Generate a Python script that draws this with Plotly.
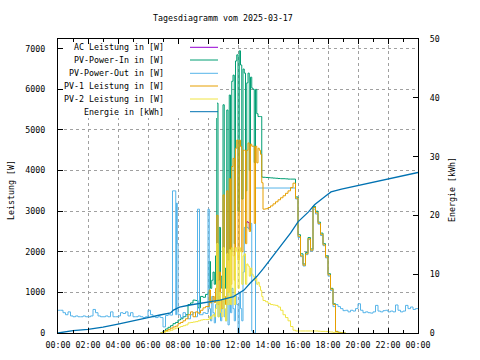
import plotly.graph_objects as go

DAY = "2025-03-17"

# ---------------- data ----------------
pv_times = [
    "06:50", "07:00", "07:10", "07:20", "07:30", "07:40", "07:50", "08:00", "08:10", "08:20",
    "08:30", "08:40", "08:50", "09:00", "09:10", "09:20", "09:30", "09:40", "09:50",
    "10:00", "10:05", "10:10", "10:15", "10:20", "10:25", "10:30", "10:35", "10:40", "10:45", "10:50", "10:55",
    "11:00", "11:05", "11:10", "11:15", "11:20", "11:25", "11:30", "11:35", "11:40", "11:45", "11:50", "11:55",
    "12:00", "12:05", "12:10", "12:15", "12:20", "12:25", "12:30", "12:35", "12:40", "12:45", "12:50", "12:55",
    "13:00", "13:05", "13:10", "13:15", "13:20", "13:25", "13:30", "13:35",
    "13:40", "13:50", "14:00", "14:10", "14:20", "14:30", "14:40", "14:50",
    "15:00", "15:10", "15:20", "15:30", "15:40", "15:50", "16:00", "16:10", "16:20", "16:30", "16:40", "16:50",
    "17:00", "17:10", "17:20", "17:30", "17:40", "17:50", "18:00", "18:10", "18:20", "18:30", "18:40", "18:50",
    "19:00", "19:10",
]

pv_in_w = [
    0, 50, 100, 140, 180, 230, 260, 320, 350, 400, 450, 700, 740, 810, 800, 620, 900, 880, 950,
    1000, 1760, 1100, 1300, 1500, 1200, 1900, 5660, 1300, 2600, 1400, 1100,
    5620, 1600, 1100, 5490, 1800, 5860, 2000, 6200, 6350, 2200, 6700, 6850,
    3000, 6950, 6600, 3300, 6500, 6400, 3500, 6160, 6400, 4000, 6300, 6030,
    6000, 4200, 6000, 5400, 5330, 5330, 5330, 3840,
    3835, 3830, 3825, 3820, 3815, 3810, 3805, 3800,
    3800, 3795, 3790, 3790, 3790, 3350, 2420, 1950, 1700, 1980, 2350, 2070,
    3120, 3000, 2730, 2460, 2200, 1900, 1460, 1100, 720, 40, 15, 5,
    0, 0,
]

pv1_w = [
    0, 30, 60, 90, 120, 150, 170, 230, 260, 300, 350, 450, 520, 400, 520, 490, 560, 620, 650,
    650, 1060, 740, 800, 900, 750, 1100, 2900, 700, 1500, 800, 600,
    3400, 900, 700, 3500, 1000, 3800, 1200, 4100, 4300, 1300, 4550, 4750,
    1800, 4750, 4590, 2000, 4500, 4500, 2200, 4500, 4680, 2500, 4650, 4600,
    4600, 2700, 4600, 4190, 4550, 4500, 4400, 3700,
    3050, 3060, 3090, 3130, 3180, 3230, 3280, 3330,
    3380, 3440, 3500, 3580, 3690, 3320, 2380, 1900, 1670, 1950, 2320, 2040,
    3090, 2960, 2700, 2430, 2170, 1870, 1430, 1080, 700, 35, 15, 5,
    0, 0,
]

pv2_w = [
    0, 20, 40, 50, 70, 100, 120, 140, 160, 180, 200, 250, 260, 270, 280, 300, 320, 330, 330,
    330, 400, 350, 420, 450, 400, 600, 2200, 400, 1000, 500, 400,
    2100, 600, 300, 1950, 700, 2050, 700, 2100, 1900, 700, 2100, 2000,
    1100, 2100, 2000, 1200, 1900, 1950, 1200, 1700, 1650, 1400, 1600, 1450,
    1400, 1300, 1350, 1200, 1250, 1150, 1050, 900,
    800, 770, 730, 700, 690, 680, 640, 560,
    450, 380, 300, 160, 70, 50, 50, 50, 50, 50, 50, 50,
    50, 50, 45, 40, 40, 35, 30, 25, 15, 5, 0, 0,
    0, 0,
]

out_times = [
    "00:00", "00:10", "00:20", "00:30", "00:40", "00:50", "01:00", "01:10", "01:20", "01:30", "01:40", "01:50",
    "02:00", "02:10", "02:20", "02:30", "02:40", "02:50", "03:00", "03:10", "03:20", "03:30", "03:40", "03:50",
    "04:00", "04:10", "04:20", "04:30", "04:40", "04:50", "05:00", "05:10", "05:20", "05:30", "05:40", "05:50",
    "06:00", "06:10", "06:20", "06:30", "06:40", "06:50", "07:00", "07:10", "07:20", "07:30", "07:38", "07:51",
    "07:54", "07:57", "08:00", "08:10", "08:20", "08:30", "08:40", "08:50", "09:00", "09:10", "09:18", "09:26",
    "09:40", "09:50", "10:00", "10:05",
    "10:10", "10:15", "10:20", "10:25", "10:30", "10:35", "10:40", "10:45", "10:50", "10:55",
    "11:00", "11:05", "11:10", "11:15", "11:20", "11:25", "11:30", "11:35", "11:40", "11:45", "11:50", "11:55",
    "12:00", "12:05", "12:10", "12:15", "12:20", "12:25", "12:30", "12:35", "12:40", "12:45", "12:50", "12:55",
    "13:00", "13:05", "13:10", "15:40", "15:50",
    "16:00", "16:10", "16:20", "16:30", "16:40", "16:50", "17:00", "17:10", "17:20", "17:30", "17:40", "17:50",
    "18:00", "18:10", "18:20", "18:30", "18:40", "18:50", "19:00", "19:10", "19:20", "19:30", "19:40", "19:50",
    "20:00", "20:10", "20:20", "20:30", "20:40", "20:50", "21:00", "21:10", "21:20", "21:30", "21:40", "21:50",
    "22:00", "22:10", "22:20", "22:30", "22:40", "22:50", "23:00", "23:10", "23:20", "23:30", "23:40", "23:50",
    "24:00",
]

pv_out_w = [
    560, 560, 500, 450, 520, 420, 400, 420, 400, 400, 420, 400,
    400, 420, 580, 500, 420, 400, 400, 420, 400, 520, 400, 400,
    420, 500, 480, 520, 420, 500, 400, 400, 420, 400, 380, 400,
    560, 450, 400, 380, 400, 380, 150, 430, 450, 440, 3500, 450,
    3200, 2200, 450, 380, 500, 420, 350, 450, 500, 400, 3050, 450,
    500, 480, 3050, 600,
    300, 900, 500, 250, 700, 1300, 400, 900, 300, 600,
    1200, 400, 300, 1000, 200, 800, 500, 1100, 600, 300, 900, 700,
    0, 1000, 600, 300, 1500, 2600, 2700, 2600, 2580, 2550, 2700, 50,
    0, 0, 3570, 3570, 3300,
    2350, 1880, 1650, 1930, 2300, 2020, 3050, 2930, 2680, 2400, 2150, 1850,
    1400, 1050, 650, 700, 650, 600, 550, 560, 520, 560, 540, 600,
    720, 560, 500, 520, 500, 490, 520, 680, 540, 520, 550, 560,
    520, 540, 520, 690, 560, 520, 540, 680, 600, 640, 580, 600,
    600,
]

# AC Leistung: only visible as a short purple piece next to PV-Power-Out
ac_times = ["12:30", "12:35", "12:40", "12:45"]
ac_w = [2700, 2740, 2720, 2550]

energy_times = [
    "00:00", "00:30", "01:00", "02:00", "03:00", "04:00", "05:00", "06:00", "06:48", "07:30",
    "07:42", "08:06", "08:48", "09:30", "10:06", "10:48", "11:42", "12:00", "12:24", "12:48",
    "13:15", "13:42", "14:06", "14:30", "14:54", "15:30", "16:00", "16:42", "17:06", "17:48",
    "18:12", "18:54", "19:30", "20:36", "21:42", "22:48", "24:00",
]
energy_kwh = [
    0.0, 0.2, 0.4, 0.63, 1.0, 1.5, 2.0, 2.6, 3.06, 3.4,
    3.9, 4.4, 4.76, 5.05, 5.3, 5.6, 6.2, 6.7, 7.3, 8.45,
    9.6, 11.0, 12.4, 13.6, 15.0, 17.0, 18.9, 20.6, 21.8, 23.2,
    24.0, 24.45, 24.8, 25.45, 26.0, 26.6, 27.3,
]

series_names = ["AC Leistung in [W]", "PV-Power-In in [W]", "PV-Power-Out in [W]",
                "PV-1 Leistung in [W]", "PV-2 Leistung in [W]", "Energie in [kWh]"]
series_colors = ["#9400d3", "#009e73", "#56b4e9", "#e69f00", "#f0e442", "#0072b2"]

x_ticks = ["00:00", "02:00", "04:00", "06:00", "08:00", "10:00", "12:00",
           "14:00", "16:00", "18:00", "20:00", "22:00", "00:00"]


def to_dt(times):
    out = []
    for t in times:
        if t == "24:00":
            out.append("2025-03-18 00:00")
        else:
            out.append(f"{DAY} {t}")
    return out


FONT = "DejaVu Sans Mono"
FS = 8.3

fig = go.Figure()
fig.add_trace(go.Scatter(x=to_dt(ac_times), y=ac_w, mode="lines", line=dict(color=series_colors[0], width=1, shape="hv"), name=series_names[0]))
fig.add_trace(go.Scatter(x=to_dt(pv_times), y=pv_in_w, mode="lines", line=dict(color=series_colors[1], width=1, shape="hv"), name=series_names[1]))
fig.add_trace(go.Scatter(x=to_dt(out_times), y=pv_out_w, mode="lines", line=dict(color=series_colors[2], width=1, shape="hv"), name=series_names[2]))
fig.add_trace(go.Scatter(x=to_dt(pv_times), y=pv1_w, mode="lines", line=dict(color=series_colors[3], width=1, shape="hv"), name=series_names[3]))
fig.add_trace(go.Scatter(x=to_dt(pv_times), y=pv2_w, mode="lines", line=dict(color=series_colors[4], width=1, shape="hv"), name=series_names[4]))
fig.add_trace(go.Scatter(x=to_dt(energy_times), y=energy_kwh, mode="lines", line=dict(color=series_colors[5], width=1.3), name=series_names[5], yaxis="y2"))

L, R, T, B = 58, 62, 39, 27
W, H = 480, 360
PW, PH = W - L - R, H - T - B


def px(xp):
    return (xp - L) / PW


def py(yp):
    return (H - B - yp) / PH


tick_vals = [f"{DAY} {t}" for t in x_ticks[:-1]] + ["2025-03-18 00:00"]

fig.update_layout(
    width=W, height=H,
    margin=dict(l=L, r=R, t=T, b=B, pad=0, autoexpand=False),
    paper_bgcolor="white", plot_bgcolor="white",
    showlegend=False,
    font=dict(family=FONT, size=FS, color="black"),
    xaxis=dict(
        type="date", automargin=False,
        range=[f"{DAY} 00:00", "2025-03-18 00:00"],
        tickvals=tick_vals, ticktext=x_ticks,
        ticks="inside", ticklen=5, tickcolor="black", tickwidth=1,
        minor=dict(dtick=3600000, ticks="inside", ticklen=3, tickcolor="black", showgrid=False),
        showline=True, linecolor="black", linewidth=1, mirror="ticks",
        showgrid=True, gridcolor="#a0a0a0", griddash="3px,3px", gridwidth=1,
        zeroline=False, ticklabelstandoff=4,
        tickfont=dict(family=FONT, size=FS),
    ),
    yaxis=dict(
        automargin=False,
        range=[0, 7240], tickvals=[0, 1000, 2000, 3000, 4000, 5000, 6000, 7000],
        ticks="inside", ticklen=5, tickcolor="black",
        showline=True, linecolor="black", linewidth=1, mirror=False,
        showgrid=True, gridcolor="#a0a0a0", griddash="3px,3px", gridwidth=1,
        zeroline=False, ticklabelstandoff=10,
        tickfont=dict(family=FONT, size=FS),
    ),
    yaxis2=dict(
        automargin=False,
        range=[0, 50], tickvals=[0, 10, 20, 30, 40, 50],
        overlaying="y", side="right",
        ticks="inside", ticklen=5, tickcolor="black",
        showline=True, linecolor="black", linewidth=1,
        showgrid=False, zeroline=False, ticklabelstandoff=9,
        tickfont=dict(family=FONT, size=FS),
    ),
)

shapes = [
    dict(type="rect", xref="paper", yref="paper", x0=px(63), x1=px(217), y0=py(118), y1=py(44),
         fillcolor="white", line=dict(width=0), layer="above"),
]
annotations = [
    dict(text="Tagesdiagramm vom 2025-03-17", xref="paper", yref="paper", x=px(223), y=py(18),
         showarrow=False, xanchor="center", yanchor="middle", font=dict(family=FONT, size=FS)),
    dict(text="Leistung [W]", xref="paper", yref="paper", x=px(11), y=py(190), textangle=-90,
         showarrow=False, xanchor="center", yanchor="middle", font=dict(family=FONT, size=FS)),
    dict(text="Energie [kWh]", xref="paper", yref="paper", x=px(452), y=py(190), textangle=-90,
         showarrow=False, xanchor="center", yanchor="middle", font=dict(family=FONT, size=FS)),
]
rows = [47.3, 60, 73.3, 86, 99, 111.7]
for name, color, yr in zip(series_names, series_colors, rows):
    annotations.append(dict(text=name, xref="paper", yref="paper", x=px(166), y=py(yr),
                            showarrow=False, xanchor="right", yanchor="middle",
                            font=dict(family=FONT, size=FS)))
    shapes.append(dict(type="line", xref="paper", yref="paper", x0=px(190), x1=px(218),
                       y0=py(yr), y1=py(yr), line=dict(color=color, width=1), layer="above"))

fig.update_layout(shapes=shapes, annotations=annotations)
fig.write_html("out.html", config={"displayModeBar": False},
               post_script="document.body.style.margin='0px';document.body.style.overflow='hidden';")
